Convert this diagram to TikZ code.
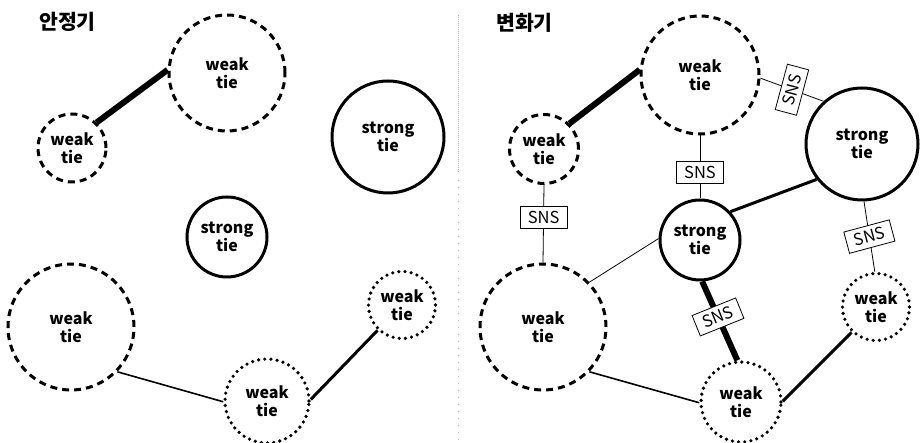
\documentclass[tikz,border=0pt]{standalone}
\usepackage{fontspec}
\setmainfont{Noto Sans}
\newfontfamily\krfont{Noto Sans CJK KR}
\begin{document}
\begin{tikzpicture}[x=1pt,y=-1pt,
  lbl/.style={circle, inner sep=0pt, fill=white, align=center,
    font=\krfont\fontsize{16}{18}\selectfont\bfseries, text=black},
  wkdash/.style={lbl, draw, line width=3pt, dash pattern=on 7pt off 5pt, minimum size=#1},
  wkdot/.style={lbl, draw, line width=3.6pt, dash pattern=on 0pt off 6.2pt, line cap=round, minimum size=#1},
  strongc/.style={lbl, draw, line width=3pt, minimum size=#1},
  lnA/.style={line width=0.8pt},
  lnB/.style={line width=1.6pt},
  lnC/.style={line width=3pt},
  lnD/.style={line width=6pt},
  snsbox/.style={draw, line width=0.8pt, fill=white, inner sep=1pt,
    minimum width=47pt, minimum height=22pt, font=\krfont\fontsize{16.5}{16.5}\selectfont},
  ttl/.style={anchor=base west, inner sep=0pt, font=\krfont\fontsize{20.5}{20.5}\selectfont\bfseries}
]
\useasboundingbox (0,0) rectangle (922,443);

% divider
\draw[gray!55, line width=0.8pt, dash pattern=on 1pt off 1pt] (458,15) -- (458,172);
\draw[gray!55, line width=0.8pt, dash pattern=on 1pt off 6pt] (458,180) -- (458,440);

% titles
\node[ttl] (t1) at (39,30) {안정기};
\node[ttl] (t2) at (496,31) {변화기};

% ---------- left panel ----------
\node[wkdash=116pt] (LA) at (227,73) {weak\\tie};
\node[wkdash=68pt]  (LB) at (72,148) {weak\\tie};
\node[strongc=112pt] (LC) at (388,137) {strong\\tie};
\node[strongc=80pt]  (LD) at (227,237) {strong\\tie};
\node[wkdash=126pt] (LE) at (71,327) {weak\\tie};
\node[wkdot=84pt]   (LF) at (267,401) {weak\\tie};
\node[wkdot=67pt]   (LG) at (402,305) {weak\\tie};

\draw[lnD] (LB.46) -- (LA.177);
\draw[lnB] (LE.-44) -- (LF.181);
\draw[lnC] (LF.2) -- (LG.226);

% ---------- right panel ----------
\node[wkdash=118pt] (RA) at (700,75) {weak\\tie};
\node[wkdash=69pt]  (RB) at (544,149) {weak\\tie};
\node[strongc=112pt] (RC) at (862,144) {strong\\tie};
\node[strongc=80pt]  (RD) at (700,240) {strong\\tie};
\node[wkdash=126pt] (RE) at (543,327) {weak\\tie};
\node[wkdot=80pt]   (RF) at (741,402) {weak\\tie};
\node[wkdot=67pt]   (RG) at (876,307) {weak\\tie};

\draw[lnD] (RB.45) -- (RA.175);
\draw[lnA] (RA.-3) -- node[snsbox, rotate=75] (s1) {SNS} (RC.132);
\draw[lnA] (RA.270) -- node[snsbox, pos=0.58] (s2) {SNS} (RD.90);
\draw[lnC] (RD.43) -- (RC.218);
\draw[lnA] (RC.272) -- node[snsbox, rotate=15, pos=0.5] (s3) {SNS} (RG.92);
\draw[lnA] (RB.270) -- node[snsbox, pos=0.42] (s4) {SNS} (RE.90);
\draw[lnA] (RE.44) -- (RD.178);
\draw[lnD] (RD.273) -- node[snsbox, rotate=22, pos=0.45] (s5) {SNS} (RF.95);
\draw[lnB] (RE.-44) -- (RF.181);
\draw[lnC] (RF.1) -- (RG.226);
\end{tikzpicture}
\end{document}
